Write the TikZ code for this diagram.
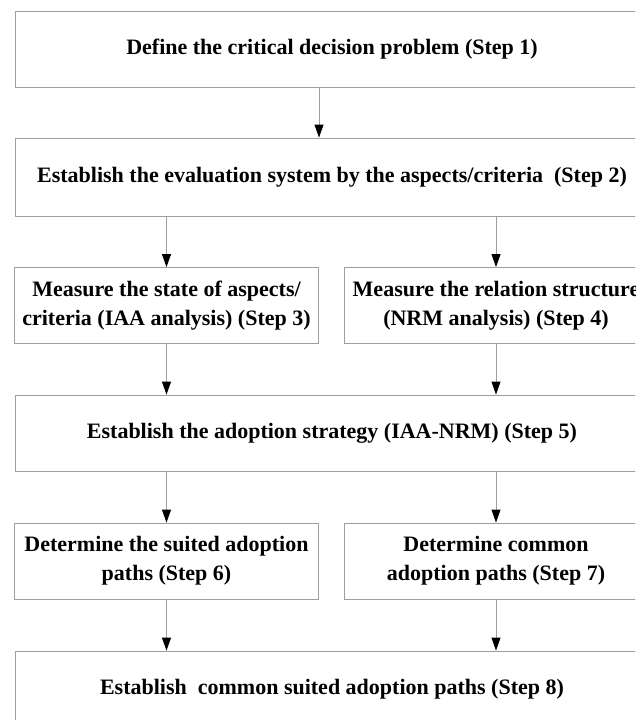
\documentclass[tikz,border=0pt]{standalone}
\usepackage{fontspec}
\setmainfont{Liberation Serif}
\usetikzlibrary{arrows.meta}

\begin{document}
\begin{tikzpicture}[x=1pt,y=-1pt]
\tikzset{box/.style={draw=black!38,line width=0.9pt,minimum height=76pt,inner sep=0pt,align=center,font=\bfseries\fontsize{22}{29}\selectfont}}
\tikzset{wide/.style={box,minimum width=634pt},half/.style={box,minimum width=304pt}}
\tikzset{arr/.style={draw=black!38,line width=0.9pt,-{Triangle[black,length=13pt,width=9pt]}}}
\clip (0,0) rectangle (635,720);
\node[wide] (step1) at (332,49) {Define the critical decision problem (Step 1)};
\node[wide,minimum height=78pt] (step2) at (332,177) {Establish the evaluation system by the aspects/criteria~~(Step 2)};
\node[half] (step3) at (166.5,305.5) {Measure the state of aspects/\\criteria (IAA analysis) (Step 3)};
\node[half] (step4) at (496,305.5) {Measure the relation structure\\(NRM analysis) (Step 4)};
\node[wide] (step5) at (332,433) {Establish the adoption strategy (IAA-NRM) (Step 5)};
\node[half] (step6) at (166.5,561) {Determine the suited adoption\\paths (Step 6)};
\node[half] (step7) at (496,561) {Determine common\\adoption paths (Step 7)};
\node[wide] (step8) at (332,689) {Establish~~common suited adoption paths (Step 8)};
\draw[arr] ([xshift=-13pt]step1.south) -- ([xshift=-13pt]step2.north);
\foreach \a/\b/\c in {step2/step3/step3,step2/step4/step4,step3/step5/step3,step4/step5/step4,step5/step6/step6,step5/step7/step7,step6/step8/step6,step7/step8/step7}
  \draw[arr] (\a.south -| \c) -- (\b.north -| \c);
\end{tikzpicture}
\end{document}
